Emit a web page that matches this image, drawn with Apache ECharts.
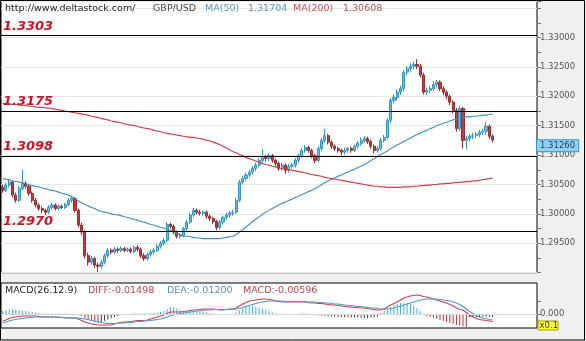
<!DOCTYPE html>
<html>
<head>
<meta charset="utf-8">
<script src="https://cdn.jsdelivr.net/npm/echarts@6/dist/echarts.min.js"></script>
<style>
html,body{margin:0;padding:0;background:#f0f0f0;}
#chart{width:586px;height:341px;}
</style>
</head>
<body>
<div id="chart"></div>
<script>
// GBP/USD candles, one row per bar: [open, close, low, high]
const ohlc = [
  [1.3045,1.3040,1.3036,1.3050],[1.3040,1.3049,1.3037,1.3053],[1.3049,1.3054,1.3045,1.3059],[1.3054,1.3032,1.3028,1.3057],[1.3032,1.3023,1.3019,1.3036],
  [1.3023,1.3043,1.3020,1.3047],[1.3043,1.3052,1.3040,1.3075],[1.3052,1.3047,1.3043,1.3056],[1.3047,1.3035,1.3031,1.3050],[1.3035,1.3023,1.3019,1.3038],
  [1.3023,1.3015,1.3011,1.3027],[1.3015,1.3009,1.3005,1.3018],[1.3009,1.3006,1.3001,1.3013],[1.3006,1.3003,1.2998,1.3009],[1.3003,1.3011,1.3000,1.3015],
  [1.3011,1.3015,1.3007,1.3019],[1.3015,1.3009,1.3006,1.3018],[1.3009,1.3013,1.3006,1.3016],[1.3013,1.3011,1.3008,1.3016],[1.3011,1.3016,1.3008,1.3019],
  [1.3016,1.3023,1.3013,1.3027],[1.3023,1.3026,1.3019,1.3031],[1.3026,1.3006,1.3002,1.3029],[1.3006,1.2981,1.2977,1.3009],[1.2981,1.2969,1.2964,1.2985],
  [1.2969,1.2929,1.2924,1.2972],[1.2929,1.2918,1.2912,1.2934],[1.2918,1.2924,1.2914,1.2929],[1.2924,1.2913,1.2908,1.2927],[1.2913,1.2911,1.2901,1.2917],
  [1.2911,1.2918,1.2907,1.2922],[1.2918,1.2929,1.2914,1.2933],[1.2929,1.2938,1.2925,1.2942],[1.2938,1.2935,1.2931,1.2941],[1.2935,1.2940,1.2932,1.2944],
  [1.2940,1.2938,1.2934,1.2943],[1.2938,1.2941,1.2935,1.2945],[1.2941,1.2938,1.2935,1.2944],[1.2938,1.2940,1.2935,1.2943],[1.2940,1.2936,1.2933,1.2943],
  [1.2936,1.2943,1.2933,1.2946],[1.2943,1.2940,1.2936,1.2947],[1.2940,1.2929,1.2925,1.2943],[1.2929,1.2924,1.2920,1.2933],[1.2924,1.2931,1.2921,1.2934],
  [1.2931,1.2935,1.2928,1.2939],[1.2935,1.2938,1.2931,1.2942],[1.2938,1.2945,1.2935,1.2949],[1.2945,1.2950,1.2941,1.2954],[1.2950,1.2955,1.2946,1.2959],
  [1.2955,1.2982,1.2952,1.2986],[1.2982,1.2979,1.2975,1.2985],[1.2979,1.2969,1.2965,1.2982],[1.2969,1.2962,1.2958,1.2972],[1.2962,1.2963,1.2958,1.2967],
  [1.2963,1.2975,1.2960,1.2978],[1.2975,1.2986,1.2971,1.2990],[1.2986,1.2998,1.2983,1.3002],[1.2998,1.3006,1.2994,1.3010],[1.3006,1.3003,1.2999,1.3009],
  [1.3003,1.3001,1.2997,1.3007],[1.3001,1.3003,1.2997,1.3006],[1.3003,1.2996,1.2992,1.3006],[1.2996,1.2992,1.2988,1.2999],[1.2992,1.2987,1.2983,1.2995],
  [1.2987,1.2977,1.2972,1.2990],[1.2977,1.2986,1.2974,1.2990],[1.2986,1.2994,1.2982,1.2997],[1.2994,1.2998,1.2990,1.3002],[1.2998,1.3001,1.2994,1.3005],
  [1.3001,1.3003,1.2997,1.3007],[1.3003,1.3023,1.3000,1.3027],[1.3023,1.3054,1.3020,1.3058],[1.3054,1.3060,1.3050,1.3064],[1.3060,1.3066,1.3056,1.3070],
  [1.3066,1.3071,1.3062,1.3075],[1.3071,1.3077,1.3067,1.3081],[1.3077,1.3083,1.3073,1.3087],[1.3083,1.3091,1.3079,1.3095],[1.3091,1.3096,1.3087,1.3110],
  [1.3096,1.3094,1.3089,1.3100],[1.3094,1.3099,1.3090,1.3103],[1.3099,1.3091,1.3087,1.3102],[1.3091,1.3086,1.3082,1.3094],[1.3086,1.3077,1.3073,1.3089],
  [1.3077,1.3083,1.3074,1.3087],[1.3083,1.3074,1.3068,1.3086],[1.3074,1.3081,1.3070,1.3085],[1.3081,1.3083,1.3077,1.3087],[1.3083,1.3091,1.3079,1.3095],
  [1.3091,1.3099,1.3087,1.3103],[1.3099,1.3108,1.3095,1.3112],[1.3108,1.3113,1.3104,1.3117],[1.3113,1.3108,1.3104,1.3116],[1.3108,1.3099,1.3095,1.3111],
  [1.3099,1.3091,1.3086,1.3102],[1.3091,1.3111,1.3088,1.3115],[1.3111,1.3125,1.3107,1.3129],[1.3125,1.3133,1.3121,1.3145],[1.3133,1.3122,1.3118,1.3136],
  [1.3122,1.3115,1.3111,1.3125],[1.3115,1.3111,1.3107,1.3118],[1.3111,1.3108,1.3104,1.3114],[1.3108,1.3105,1.3100,1.3111],[1.3105,1.3108,1.3101,1.3112],
  [1.3108,1.3111,1.3104,1.3114],[1.3111,1.3108,1.3104,1.3114],[1.3108,1.3115,1.3105,1.3118],[1.3115,1.3120,1.3111,1.3124],[1.3120,1.3125,1.3116,1.3130],
  [1.3125,1.3128,1.3121,1.3132],[1.3128,1.3123,1.3119,1.3131],[1.3123,1.3115,1.3111,1.3126],[1.3115,1.3108,1.3103,1.3118],[1.3108,1.3111,1.3104,1.3115],
  [1.3111,1.3125,1.3108,1.3129],[1.3125,1.3130,1.3121,1.3134],[1.3130,1.3159,1.3127,1.3163],[1.3159,1.3193,1.3155,1.3197],[1.3193,1.3198,1.3188,1.3203],
  [1.3198,1.3207,1.3193,1.3212],[1.3207,1.3213,1.3202,1.3218],[1.3213,1.3241,1.3209,1.3245],[1.3241,1.3247,1.3236,1.3252],[1.3247,1.3251,1.3242,1.3256],
  [1.3251,1.3254,1.3246,1.3259],[1.3254,1.3251,1.3246,1.3263],[1.3251,1.3236,1.3232,1.3255],[1.3236,1.3207,1.3203,1.3240],[1.3207,1.3210,1.3202,1.3215],
  [1.3210,1.3213,1.3205,1.3218],[1.3213,1.3220,1.3209,1.3226],[1.3220,1.3224,1.3215,1.3228],[1.3224,1.3213,1.3209,1.3227],[1.3213,1.3207,1.3202,1.3217],
  [1.3207,1.3200,1.3195,1.3210],[1.3200,1.3190,1.3185,1.3203],[1.3190,1.3176,1.3171,1.3193],[1.3176,1.3145,1.3140,1.3180],[1.3145,1.3179,1.3141,1.3183],
  [1.3179,1.3125,1.3111,1.3182],[1.3125,1.3128,1.3110,1.3132],[1.3128,1.3132,1.3123,1.3136],[1.3132,1.3133,1.3127,1.3138],[1.3133,1.3135,1.3129,1.3139],
  [1.3135,1.3139,1.3130,1.3143],[1.3139,1.3140,1.3134,1.3145],[1.3140,1.3149,1.3135,1.3156],[1.3149,1.3132,1.3127,1.3152],[1.3132,1.3126,1.3122,1.3135]
];

// 50-period moving average
const ma50 = [
  1.3060,1.3059,1.3058,1.3056,1.3055,1.3054,1.3053,1.3051,1.3050,1.3048,
  1.3047,1.3046,1.3044,1.3043,1.3041,1.3040,1.3039,1.3037,1.3035,1.3034,
  1.3032,1.3029,1.3026,1.3022,1.3019,1.3016,1.3014,1.3011,1.3009,1.3006,
  1.3004,1.3003,1.3002,1.3000,1.2999,1.2998,1.2997,1.2995,1.2994,1.2992,
  1.2991,1.2989,1.2987,1.2986,1.2984,1.2982,1.2981,1.2979,1.2977,1.2976,
  1.2974,1.2972,1.2970,1.2967,1.2965,1.2963,1.2962,1.2961,1.2960,1.2959,
  1.2959,1.2958,1.2958,1.2958,1.2958,1.2958,1.2958,1.2959,1.2960,1.2961,
  1.2962,1.2965,1.2969,1.2973,1.2978,1.2982,1.2987,1.2991,1.2995,1.2999,
  1.3003,1.3006,1.3009,1.3012,1.3015,1.3018,1.3020,1.3023,1.3025,1.3028,
  1.3030,1.3033,1.3035,1.3038,1.3040,1.3043,1.3046,1.3050,1.3053,1.3056,
  1.3059,1.3061,1.3064,1.3066,1.3069,1.3071,1.3074,1.3076,1.3079,1.3081,
  1.3084,1.3087,1.3091,1.3094,1.3098,1.3101,1.3104,1.3107,1.3111,1.3114,
  1.3117,1.3120,1.3123,1.3126,1.3129,1.3132,1.3135,1.3137,1.3140,1.3142,
  1.3145,1.3147,1.3150,1.3152,1.3154,1.3156,1.3158,1.3160,1.3161,1.3163,
  1.3164,1.3165,1.3165,1.3166,1.3166,1.3167,1.3168,1.3168,1.3169,1.31704
];

// 200-period moving average
const ma200 = [
  1.3188,1.3187,1.3187,1.3186,1.3186,1.3185,1.3185,1.3184,1.3183,1.3183,
  1.3182,1.3181,1.3181,1.3180,1.3180,1.3179,1.3178,1.3177,1.3176,1.3175,
  1.3174,1.3173,1.3172,1.3171,1.3170,1.3169,1.3168,1.3166,1.3165,1.3164,
  1.3162,1.3161,1.3160,1.3158,1.3157,1.3156,1.3155,1.3153,1.3152,1.3151,
  1.3150,1.3149,1.3147,1.3146,1.3145,1.3144,1.3142,1.3141,1.3140,1.3138,
  1.3137,1.3136,1.3135,1.3134,1.3133,1.3132,1.3131,1.3130,1.3130,1.3129,
  1.3128,1.3127,1.3125,1.3124,1.3122,1.3120,1.3118,1.3115,1.3112,1.3109,
  1.3106,1.3104,1.3101,1.3099,1.3096,1.3094,1.3092,1.3090,1.3088,1.3086,
  1.3084,1.3083,1.3081,1.3080,1.3078,1.3077,1.3076,1.3075,1.3074,1.3073,
  1.3072,1.3071,1.3070,1.3068,1.3067,1.3066,1.3065,1.3064,1.3062,1.3061,
  1.3060,1.3059,1.3058,1.3057,1.3056,1.3055,1.3054,1.3053,1.3052,1.3051,
  1.3050,1.3049,1.3048,1.3047,1.3047,1.3046,1.3046,1.3045,1.3045,1.3045,
  1.3045,1.3045,1.3046,1.3046,1.3046,1.3047,1.3047,1.3048,1.3048,1.3049,
  1.3049,1.3050,1.3050,1.3051,1.3051,1.3052,1.3052,1.3053,1.3053,1.3054,
  1.3054,1.3055,1.3055,1.3056,1.3056,1.3057,1.3058,1.3059,1.3060,1.30608
];

// support / resistance levels
const levels = [1.3303, 1.3175, 1.3098, 1.2970];

// MACD(26,12,9)
const diff = [
  -0.014,-0.012,-0.009,-0.007,-0.006,-0.005,-0.004,-0.004,-0.004,-0.004,
  -0.004,-0.005,-0.006,-0.006,-0.006,-0.006,-0.006,-0.007,-0.007,-0.008,
  -0.008,-0.008,-0.008,-0.010,-0.013,-0.016,-0.018,-0.020,-0.021,-0.022,
  -0.022,-0.022,-0.022,-0.022,-0.020,-0.018,-0.017,-0.016,-0.016,-0.015,
  -0.014,-0.013,-0.013,-0.013,-0.012,-0.010,-0.008,-0.006,-0.004,-0.002,
  0.001,0.004,0.004,0.004,0.004,0.005,0.006,0.007,0.008,0.008,
  0.009,0.010,0.010,0.010,0.010,0.009,0.008,0.008,0.009,0.010,
  0.010,0.012,0.016,0.020,0.023,0.026,0.027,0.028,0.029,0.030,
  0.030,0.029,0.028,0.026,0.025,0.024,0.024,0.024,0.024,0.024,
  0.024,0.024,0.024,0.023,0.022,0.022,0.021,0.021,0.020,0.019,
  0.018,0.018,0.017,0.016,0.015,0.014,0.014,0.013,0.013,0.012,
  0.012,0.011,0.010,0.009,0.008,0.008,0.010,0.014,0.018,0.021,
  0.024,0.028,0.032,0.034,0.036,0.037,0.038,0.037,0.035,0.034,
  0.032,0.030,0.028,0.026,0.024,0.022,0.019,0.016,0.012,0.009,
  0.008,0.003,-0.002,-0.006,-0.009,-0.011,-0.012,-0.013,-0.014,-0.01498
];
const dea = [
  -0.018,-0.016,-0.014,-0.012,-0.011,-0.010,-0.009,-0.008,-0.007,-0.007,
  -0.006,-0.006,-0.006,-0.006,-0.006,-0.006,-0.006,-0.006,-0.007,-0.007,
  -0.007,-0.008,-0.008,-0.008,-0.009,-0.010,-0.011,-0.013,-0.014,-0.016,
  -0.017,-0.018,-0.019,-0.019,-0.019,-0.019,-0.018,-0.018,-0.017,-0.017,
  -0.016,-0.015,-0.015,-0.014,-0.014,-0.013,-0.012,-0.011,-0.010,-0.008,
  -0.006,-0.004,-0.002,0.000,0.001,0.002,0.003,0.004,0.005,0.006,
  0.006,0.007,0.008,0.008,0.009,0.009,0.009,0.009,0.009,0.009,
  0.009,0.010,0.011,0.013,0.015,0.017,0.019,0.021,0.023,0.024,
  0.025,0.026,0.026,0.026,0.026,0.026,0.025,0.025,0.025,0.025,
  0.025,0.025,0.025,0.024,0.024,0.024,0.023,0.023,0.022,0.022,
  0.021,0.020,0.020,0.019,0.018,0.017,0.017,0.016,0.015,0.015,
  0.014,0.013,0.012,0.012,0.011,0.010,0.010,0.010,0.011,0.012,
  0.014,0.016,0.018,0.020,0.022,0.024,0.026,0.028,0.029,0.030,
  0.030,0.030,0.030,0.029,0.028,0.027,0.026,0.024,0.022,0.019,
  0.015,0.010,0.005,0.001,-0.003,-0.006,-0.008,-0.0095,-0.011,-0.012
];
const macdHist = [
  0.006,0.008,0.009,0.010,0.009,0.008,0.007,0.006,0.005,0.004,
  0.003,0.002,0.0016,0.0012,0.001,0.001,0.001,0.0008,0.0006,0.0006,
  0.0008,0.0006,-0.0006,-0.002,-0.004,-0.008,-0.011,-0.014,-0.016,-0.018,
  -0.017,-0.014,-0.011,-0.008,-0.006,-0.004,-0.002,-0.0012,-0.001,-0.001,
  0.001,0.0012,0.001,0.001,0.0012,0.0016,0.002,0.003,0.004,0.006,
  0.010,0.014,0.013,0.011,0.008,0.006,0.006,0.006,0.005,0.005,
  0.004,0.004,0.003,0.002,0.001,-0.001,-0.0016,-0.0016,-0.0012,-0.001,
  -0.0008,0.003,0.007,0.011,0.014,0.016,0.016,0.015,0.013,0.011,
  0.009,0.006,0.003,0.001,-0.001,-0.002,-0.002,-0.002,-0.0016,-0.0012,
  -0.001,0.001,0.001,0.001,-0.001,-0.002,-0.003,-0.003,-0.004,-0.004,
  -0.005,-0.005,-0.006,-0.006,-0.006,-0.007,-0.007,-0.007,-0.007,-0.008,
  -0.008,-0.008,-0.007,-0.006,-0.005,0.002,0.006,0.010,0.014,0.018,
  0.020,0.022,0.022,0.021,0.020,0.016,0.012,0.006,-0.002,-0.004,
  -0.006,-0.008,-0.010,-0.012,-0.014,-0.016,-0.018,-0.020,-0.022,-0.023,
  -0.025,-0.026,-0.006,-0.006,-0.006,-0.006,-0.005,-0.005,-0.006,-0.00596
];

const SANS = "'DejaVu Sans', Verdana, sans-serif";
const slotCount = 163;            // bar slots across the plot, the last ones stay empty
const slots = Array.from({length: slotCount}, (_, i) => String(i));
const last = ohlc.length - 1;
const lastClose = ohlc[last][1];

const chart = echarts.init(document.getElementById('chart'), null, {renderer: 'canvas'});

function headerText(x, y, text, color) {
  return {
    type: 'text', x: x, y: y, z: 100,
    style: {text: text, fill: color, fontSize: 9.5, fontFamily: SANS, verticalAlign: 'middle'}
  };
}

const hiddenCat = {
  type: 'category', data: slots, boundaryGap: true,
  axisLine: {show: false}, axisTick: {show: false}, axisLabel: {show: false}, splitLine: {show: false}
};

const option = {
  animation: false,
  backgroundColor: '#f0f0f0',
  grid: [
    {left: 1, right: 49, top: 1, height: 271.7, show: true, backgroundColor: '#ffffff', borderColor: '#000', borderWidth: 1},
    {left: 1, right: 49, top: 283, height: 45, show: true, backgroundColor: '#ffffff', borderColor: '#000', borderWidth: 1}
  ],
  xAxis: [
    Object.assign({gridIndex: 0}, hiddenCat),
    Object.assign({gridIndex: 1}, hiddenCat)
  ],
  yAxis: [
    {
      type: 'value', gridIndex: 0, position: 'right',
      min: 1.29, max: 1.3362, interval: 0.005,
      axisLine: {show: false},
      axisTick: {show: true, length: 4, lineStyle: {color: '#777'}},
      minorTick: {show: true, splitNumber: 2, length: 4, lineStyle: {color: '#777'}},
      axisLabel: {
        fontSize: 8.5, color: '#555', fontFamily: SANS, margin: 3,
        formatter: v => (v < 1.2949 || v > 1.3301) ? '' : v.toFixed(5)
      },
      splitLine: {show: true, lineStyle: {color: '#e8e8e8', width: 1}}
    },
    {
      type: 'value', gridIndex: 1, position: 'right',
      min: -0.028, max: 0.062,
      axisLine: {show: false},
      axisTick: {show: true, length: 4, customValues: [0, 0.026], lineStyle: {color: '#777'}},
      axisLabel: {customValues: [0], fontSize: 8.5, color: '#555', fontFamily: SANS, margin: 3,
        formatter: v => v.toFixed(3)},
      splitLine: {show: false}
    }
  ],
  series: [
    {
      name: 'GBP/USD', type: 'candlestick', xAxisIndex: 0, yAxisIndex: 0,
      data: ohlc.map(r => [r[0], r[1], r[2], r[3]]),
      barWidth: 2.6,
      itemStyle: {color: '#5cc3ea', color0: '#c9383c', borderColor: '#3596c4', borderColor0: '#a32a2c', borderWidth: 1},
      markLine: {
        silent: true, symbol: 'none', animation: false, precision: 5,
        lineStyle: {color: '#000', width: 1.2, type: 'solid'},
        label: {
          show: true, position: 'insideStartTop', distance: [2, 3],
          formatter: p => Number(p.value).toFixed(4),
          color: '#cc1426', fontSize: 13, fontWeight: 'bold', fontStyle: 'italic', fontFamily: SANS
        },
        data: levels.map(v => ({yAxis: v}))
      }
    },
    {
      name: 'MA(50)', type: 'line', xAxisIndex: 0, yAxisIndex: 0, data: ma50,
      showSymbol: false, symbol: 'none', lineStyle: {color: '#3f8db5', width: 1.1}, z: 3
    },
    {
      name: 'MA(200)', type: 'line', xAxisIndex: 0, yAxisIndex: 0, data: ma200,
      showSymbol: false, symbol: 'none', lineStyle: {color: '#d2404c', width: 1.2}, z: 3,
      markLine: {
        silent: true, symbol: 'none', animation: false, precision: 5,
        lineStyle: {color: 'rgba(0,0,0,0)', width: 1},
        label: {
          show: true, position: 'end', distance: 0, offset: [0, 6],
          formatter: p => Number(p.value).toFixed(5),
          backgroundColor: '#8fd0f2', borderColor: '#3a92cc', borderWidth: 1,
          padding: [1, 3], color: '#1d3a55', fontSize: 8.5, fontFamily: SANS
        },
        data: [{yAxis: lastClose}]
      }
    },
    {
      name: 'MACD', type: 'bar', xAxisIndex: 1, yAxisIndex: 1, data: macdHist,
      barWidth: 1,
      itemStyle: {
        color: p => {
          const v = macdHist[p.dataIndex];
          const prev = p.dataIndex > 0 ? macdHist[p.dataIndex - 1] : v;
          if (v >= 0) return '#3cb2e2';
          return v < prev ? '#c0303a' : '#3a3a3a';
        }
      },
      markLine: {
        silent: true, symbol: 'none', animation: false, precision: 5,
        lineStyle: {color: '#d6d6d6', width: 1, type: 'solid'},
        label: {show: false},
        data: [{yAxis: 0}]
      }
    },
    {
      name: 'DIFF', type: 'line', xAxisIndex: 1, yAxisIndex: 1, data: diff,
      showSymbol: false, symbol: 'none', lineStyle: {color: '#d0404c', width: 1.2}, z: 4
    },
    {
      name: 'DEA', type: 'line', xAxisIndex: 1, yAxisIndex: 1, data: dea,
      showSymbol: false, symbol: 'none', lineStyle: {color: '#4a9ccc', width: 1.2}, z: 4
    }
  ],
  graphic: [
    headerText(5, 9, 'http://www.deltastock.com/', '#222'),
    headerText(153, 9, 'GBP/USD', '#444'),
    headerText(205, 9, 'MA(50)', '#5d95c0'),
    headerText(248, 9, ma50[last].toFixed(5), '#5d95c0'),
    headerText(293, 9, 'MA(200)', '#c8505c'),
    headerText(343, 9, ma200[last].toFixed(5), '#c8505c'),
    headerText(5, 291, 'MACD(26.12.9)', '#222'),
    headerText(88, 291, 'DIFF:' + diff[last].toFixed(5), '#c8404c'),
    headerText(167, 291, 'DEA:' + dea[last].toFixed(5), '#5a8fb8'),
    headerText(243, 291, 'MACD:' + macdHist[last].toFixed(5), '#c8404c'),
    {
      type: 'rect', z: 100,
      shape: {x: 538, y: 321, width: 20, height: 9},
      style: {fill: '#ffff2a', stroke: '#a0a000', lineWidth: 1}
    },
    {
      type: 'text', x: 539.5, y: 325.8, z: 101,
      style: {text: 'x0.1', fill: '#333', fontSize: 8.5, fontFamily: SANS, verticalAlign: 'middle'}
    },
    {
      type: 'rect', z: 110, silent: true,
      shape: {x: 0.5, y: 0.5, width: 584, height: 339.5},
      style: {fill: 'none', stroke: '#000', lineWidth: 1}
    }
  ]
};

chart.setOption(option);
</script>
</body>
</html>
